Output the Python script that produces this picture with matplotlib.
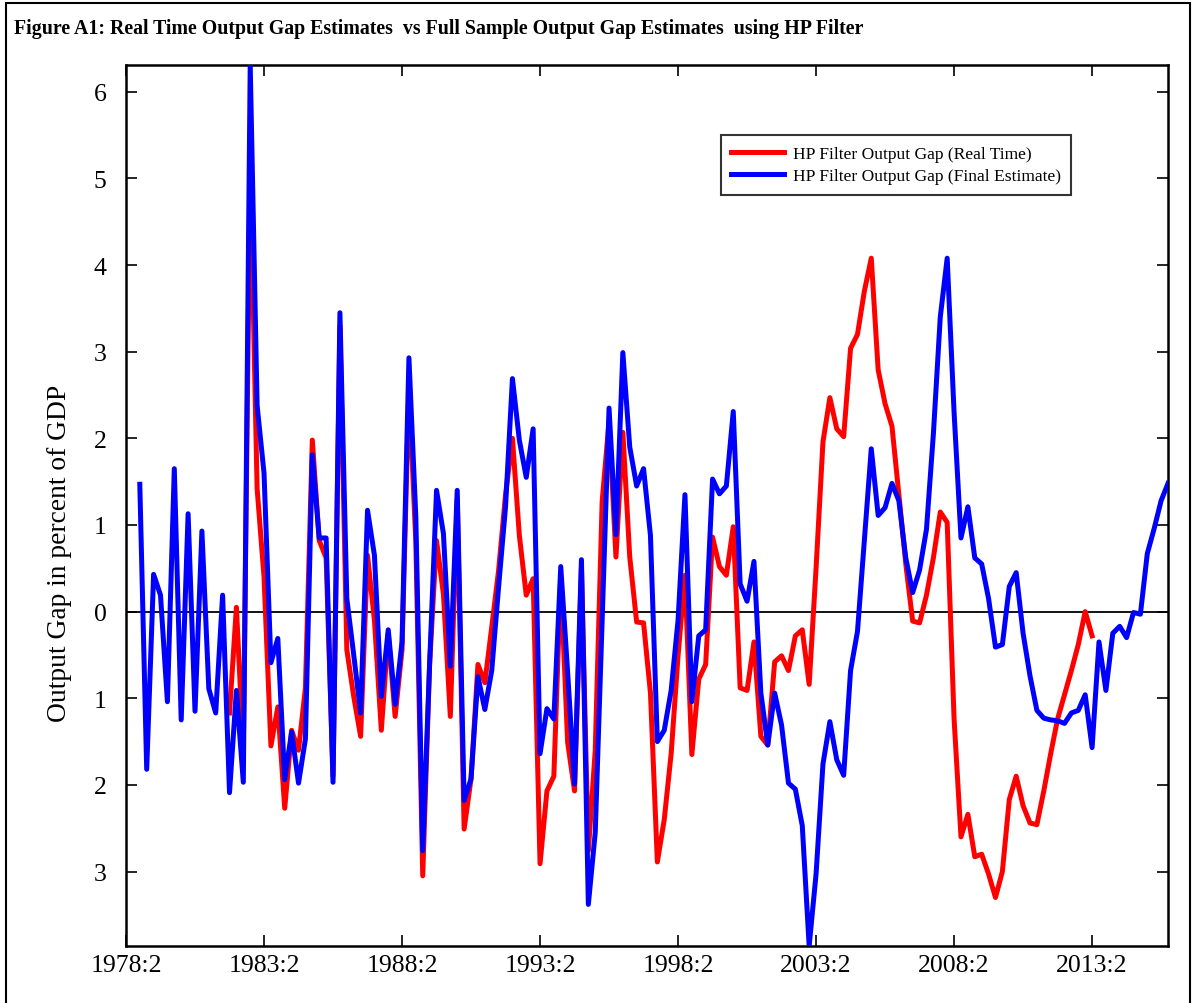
import numpy as np
import matplotlib
matplotlib.use("Agg")
import matplotlib.pyplot as plt
from matplotlib.patches import Rectangle

plt.rcParams['font.family'] = ['Liberation Serif', 'DejaVu Serif']

# HP filter output gap, final estimate (quarters from 1978:4)
final_gap = [1.47, -1.82, 0.43, 0.19, -1.04, 1.65, -1.25, 1.13, -1.15, 0.93,
             -0.89, -1.17, 0.19, -2.09, -0.91, -1.97, 6.31, 2.38, 1.60, -0.59,
             -0.31, -1.94, -1.39, -1.98, -1.47, 1.81, 0.85, 0.85, -1.97, 3.45,
             0.15, -0.50, -1.17, 1.17, 0.65, -0.98, -0.21, -1.07, -0.35, 2.93,
             1.09, -2.76, -0.60, 1.40, 0.90, -0.63, 1.40, -2.18, -1.93, -0.75,
             -1.13, -0.68, 0.29, 1.21, 2.69, 1.98, 1.55, 2.11, -1.64, -1.12,
             -1.24, 0.52, -0.70, -1.99, 0.60, -3.38, -2.55, -0.10, 2.35, 0.89,
             2.99, 1.90, 1.45, 1.65, 0.88, -1.50, -1.37, -0.91, -0.10, 1.35,
             -1.04, -0.28, -0.21, 1.53, 1.36, 1.45, 2.31, 0.32, 0.12, 0.58,
             -0.94, -1.54, -0.94, -1.31, -1.98, -2.05, -2.47, -3.86, -3.03, -1.76,
             -1.27, -1.71, -1.89, -0.68, -0.23, 0.82, 1.88, 1.11, 1.20, 1.48,
             1.28, 0.62, 0.22, 0.48, 0.95, 2.05, 3.40, 4.08, 2.30, 0.85,
             1.21, 0.62, 0.55, 0.15, -0.41, -0.38, 0.29, 0.45, -0.25, -0.74,
             -1.14, -1.23, -1.25, -1.26, -1.29, -1.17, -1.14, -0.96, -1.57, -0.35,
             -0.91, -0.25, -0.17, -0.30, -0.01, -0.03, 0.67, 0.96, 1.28, 1.48]

# HP filter output gap, real time (quarters from 1982:1)
real_time_gap = [-1.17, 0.05, -1.60, 5.20, 1.42, 0.40, -1.55, -1.10, -2.27, -1.37,
                 -1.60, -0.88, 1.98, 0.82, 0.62, -1.90, 3.30, -0.44, -0.98, -1.44,
                 0.65, -0.10, -1.37, -0.25, -1.21, -0.44, 2.60, 0.80, -3.05, -0.60,
                 0.82, 0.20, -1.21, 1.30, -2.51, -1.93, -0.61, -0.82, -0.18, 0.48,
                 1.35, 2.00, 0.88, 0.19, 0.38, -2.91, -2.07, -1.90, 0.40, -1.51,
                 -2.07, 0.50, -2.76, -1.60, 1.27, 2.20, 0.63, 2.07, 0.63, -0.12,
                 -0.13, -0.94, -2.89, -2.40, -1.64, -0.51, 0.42, -1.65, -0.78, -0.61,
                 0.86, 0.52, 0.42, 0.98, -0.88, -0.91, -0.35, -1.44, -1.54, -0.58,
                 -0.51, -0.68, -0.28, -0.21, -0.84, 0.50, 1.96, 2.47, 2.11, 2.02,
                 3.04, 3.20, 3.70, 4.08, 2.79, 2.40, 2.14, 1.35, 0.55, -0.11,
                 -0.13, 0.19, 0.62, 1.15, 1.03, -1.24, -2.60, -2.34, -2.83, -2.80,
                 -3.03, -3.30, -3.00, -2.17, -1.90, -2.24, -2.44, -2.46, -2.07, -1.64,
                 -1.24, -0.96, -0.68, -0.38, 0.00, -0.28]

# quarter offsets (from 1978:2) where each series starts
final_start = 2
real_time_start = 15
n_quarters = 151

xtick_labels = ['1978:2', '1983:2', '1988:2', '1993:2', '1998:2', '2003:2', '2008:2', '2013:2']
ytick_values = [-3, -2, -1, 0, 1, 2, 3, 4, 5, 6]
ytick_labels = ['3', '2', '1', '0', '1', '2', '3', '4', '5', '6']

final_gap = np.array(final_gap)
real_time_gap = np.array(real_time_gap)
x_final = np.arange(len(final_gap)) + final_start
x_real = np.arange(len(real_time_gap)) + real_time_start

fig = plt.figure(figsize=(11.96, 10.04), dpi=100)
ax = fig.add_axes([126 / 1196, 1 - 947 / 1004, 1042 / 1196, 881 / 1004])

ax.axhline(0, color='black', linewidth=1.3, zorder=1)
ax.plot(x_real, real_time_gap, color='#ff0000', linewidth=3.6,
        label='HP Filter Output Gap (Real Time)', zorder=2)
ax.plot(x_final, final_gap, color='#0000ff', linewidth=3.6,
        label='HP Filter Output Gap (Final Estimate)', zorder=3)

ax.set_xlim(0, n_quarters)
ax.set_ylim(final_gap.min(), final_gap.max())

ax.set_xticks(np.arange(len(xtick_labels)) * 20)
ax.set_xticklabels(xtick_labels)
ax.set_yticks(ytick_values)
ax.set_yticklabels(ytick_labels)
ax.tick_params(direction='in', length=8, width=1.2, top=True, right=True,
               labelsize=18.5)
ax.tick_params(axis='x', pad=6)
ax.tick_params(axis='y', pad=14)
for side in ax.spines.values():
    side.set_linewidth(1.8)

ax.set_ylabel('Output Gap in percent of GDP', fontsize=19.8)
ax.yaxis.set_label_coords(-0.052, 0.447)

leg = ax.legend(loc='upper left', bbox_to_anchor=(0.571, 0.9205), borderaxespad=0,
                fontsize=12.6, frameon=True, fancybox=False, handlelength=3.0,
                handletextpad=0.5, borderpad=0.6, labelspacing=0.35)
leg.get_frame().set_edgecolor('black')
leg.get_frame().set_linewidth(1.5)

fig.text(14 / 1196, 1 - 29 / 1004, 'Figure A1: Real Time Output Gap Estimates  vs Full Sample Output Gap Estimates  using HP Filter',
         fontsize=14.3, fontweight='bold', ha='left', va='center')

# outer frame around the figure
fig.patches.append(Rectangle((6 / 1196, -0.01), 1184 / 1196, 1.01 - 4 / 1004,
                             transform=fig.transFigure, fill=False,
                             edgecolor='black', linewidth=1.5))

plt.savefig('out.png', dpi=100)
